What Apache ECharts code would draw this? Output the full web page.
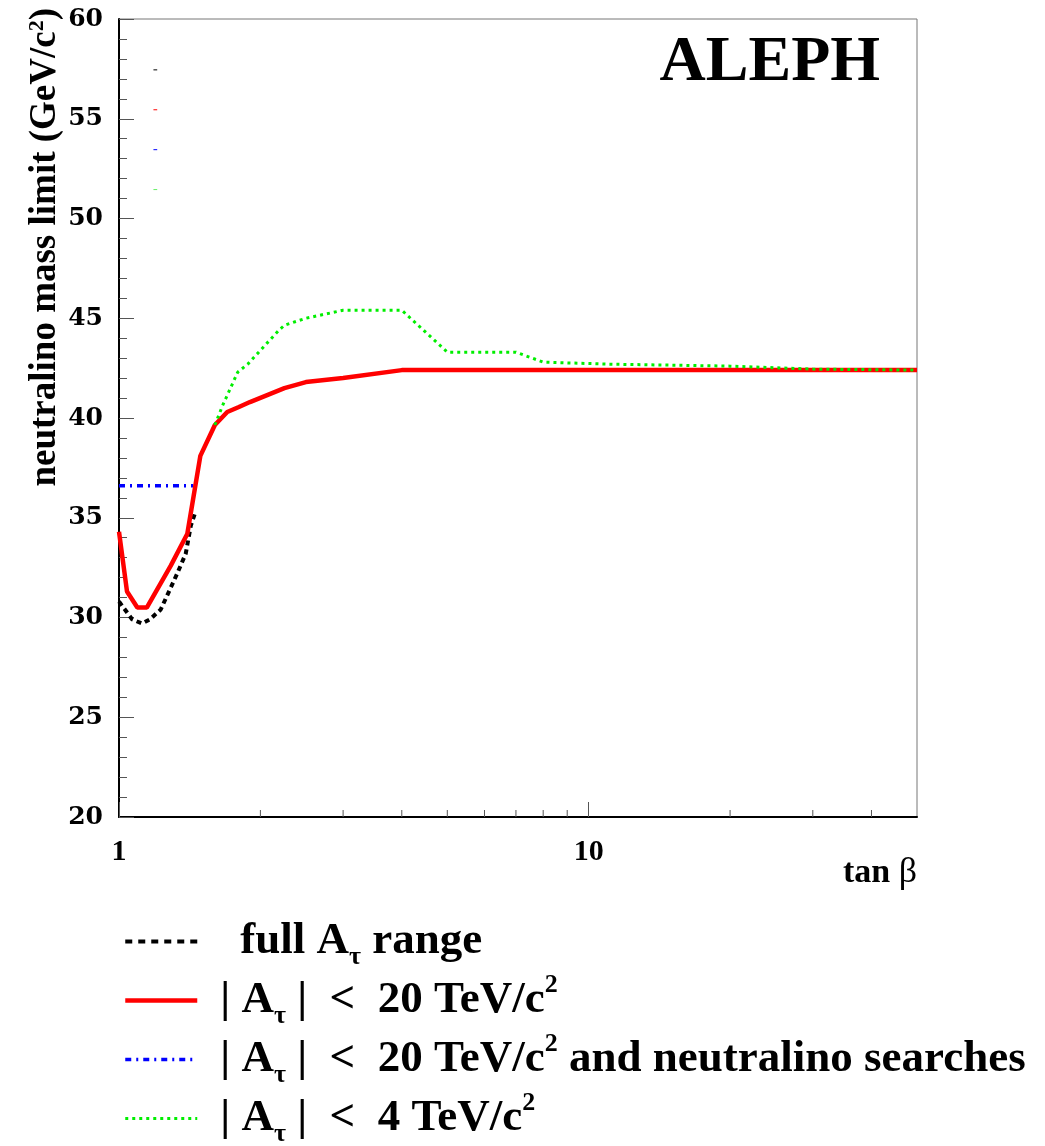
<!DOCTYPE html>
<html>
<head>
<meta charset="utf-8">
<script src="https://cdn.jsdelivr.net/npm/echarts@6/dist/echarts.min.js"></script>
<style>
html,body{margin:0;padding:0;background:#fff;}
#main{width:1045px;height:1146px;}
</style>
</head>
<body>
<div id="main"></div>
<script>
// ---- data (tan beta, mass limit in GeV/c^2) ----
const fullRange = [[1.0,30.8],[1.067,29.9],[1.12,29.7],[1.163,29.9],[1.227,30.4],[1.33,32.2],[1.387,33.2],[1.422,34.6],[1.45,35.2]];
const a20 = [[1.0,34.3],[1.04,31.3],[1.094,30.5],[1.146,30.5],[1.289,32.6],[1.398,34.2],[1.49,38.1],[1.6,39.65],[1.7,40.3],[1.8,40.55],[1.9,40.8],[2.25,41.5],[2.5,41.8],[3.0,42.0],[4.0,42.4],[50,42.4]];
const a20Neutralino = [[1.0,36.6],[1.44,36.6]];
const a4 = [[1.6,39.65],[1.66,40.6],[1.79,42.3],[1.88,42.7],[2.19,44.4],[2.25,44.65],[2.5,45.0],[3.0,45.4],[4.0,45.4],[5.0,43.3],[7.0,43.3],[8.0,42.8],[11,42.7],[20,42.6],[30,42.45],[50,42.4]];
// tiny stray marks near the top-left of the frame
const strayBlack = [[1.184,57.45],[1.206,57.45]];
const strayRed = [[1.184,55.45],[1.206,55.45]];
const strayBlue = [[1.184,53.45],[1.206,53.45]];
const strayGreen = [[1.184,51.45],[1.206,51.45]];
// axes
const xMin = 1, xMax = 50;
const yMin = 20, yMax = 60, yStep = 5;
const xMinorTicks = [2,3,4,5,6,7,8,9,20,30,40];

const serif = '"Liberation Serif", "Times New Roman", serif';
const chart = echarts.init(document.getElementById('main'), null, {renderer:'canvas'});

const legendNames = {
  full: '{gap|}full A{sub|τ} range',
  a20: '| A{sub|τ} |  <  20 TeV/c{sup|2}',
  a20n: '| A{sub|τ} |  <  20 TeV/c{sup|2} and neutralino searches',
  a4: '| A{sub|τ} |  <  4 TeV/c{sup|2}'
};

function stray(data, color){
  return {type:'line', data:data, symbol:'none', silent:true, z:1,
    lineStyle:{color:color, width:1}};
}

const styleFull = {color:'#000', width:4, type:[5,4]};
const styleA20 = {color:'#ff0000', width:4.5, type:'solid'};
const styleA20n = {color:'#0000ff', width:3.5, type:[6,5,2,5]};
const styleA4 = {color:'#00ee00', width:3, type:[3,4]};

chart.setOption({
  animation:false,
  backgroundColor:'#fff',
  grid:{left:119, top:19, right:128, bottom:329, show:true, borderColor:'#777', borderWidth:1, backgroundColor:'transparent'},
  xAxis:{
    type:'log', logBase:10, min:xMin, max:xMax,
    axisLine:{show:true, onZero:false, lineStyle:{color:'#000', width:2}},
    axisTick:{show:true, inside:true, length:15, lineStyle:{color:'#555', width:1}},
    axisLabel:{show:true, showMaxLabel:false, margin:20, fontFamily:serif, fontWeight:'bold', fontSize:30, color:'#000'},
    splitLine:{show:false}
  },
  yAxis:{
    type:'value', min:yMin, max:yMax, interval:yStep,
    axisLine:{show:true, lineStyle:{color:'#000', width:2}},
    axisTick:{show:true, inside:true, length:15, lineStyle:{color:'#555', width:1}},
    minorTick:{show:true, splitNumber:5, length:8, lineStyle:{color:'#555', width:1}},
    axisLabel:{margin:16, fontFamily:'"DejaVu Serif", serif', fontWeight:'bold', fontSize:25, color:'#000'},
    splitLine:{show:false}
  },
  legend:{
    orient:'vertical', left:118, top:908, height:260,
    itemWidth:72, itemHeight:20, itemGap:2,
    data:[
      {name:'full', lineStyle:{color:'#000', width:4, type:[7,6]}},
      {name:'a20', lineStyle:styleA20},
      {name:'a20n', lineStyle:styleA20n},
      {name:'a4', lineStyle:styleA4}
    ],
    itemStyle:{opacity:0},
    formatter:function(n){return legendNames[n];},
    textStyle:{
      fontFamily:serif, fontWeight:'bold', fontSize:45, color:'#000', lineHeight:57,
      padding:[0,0,0,18],
      rich:{
        gap:{width:20, fontSize:45, lineHeight:57},
        sub:{fontFamily:serif, fontWeight:'bold', fontSize:26, lineHeight:26, verticalAlign:'bottom', color:'#000'},
        sup:{fontFamily:serif, fontWeight:'bold', fontSize:26, lineHeight:26, verticalAlign:'top', color:'#000'}
      }
    }
  },
  graphic:[
    {type:'text', x:45, y:8, rotation:Math.PI/2,
      style:{text:'neutralino mass limit (GeV/c{sup|2})', fontFamily:serif, fontWeight:'bold', fontSize:37,
        fill:'#000', align:'right', verticalAlign:'middle',
        rich:{sup:{fontFamily:serif, fontWeight:'bold', fontSize:22, verticalAlign:'top', lineHeight:22}}}},
    {type:'text', x:880, y:63, style:{text:'ALEPH', fontFamily:serif, fontWeight:'bold', fontSize:64, fill:'#000', align:'right', verticalAlign:'middle'}},
    {type:'text', x:917, y:873, style:{text:'tan {b|β}', fontFamily:serif, fontWeight:'bold', fontSize:34, fill:'#000', align:'right', verticalAlign:'middle',
      rich:{b:{fontFamily:serif, fontWeight:'normal', fontSize:36}}}}
  ],
  series:[
    {type:'custom', name:'minorX', silent:true, z:5,
      data:xMinorTicks.map(function(v){return [v, yMin];}),
      renderItem:function(params, api){
        const p = api.coord([api.value(0), api.value(1)]);
        return {type:'line', shape:{x1:p[0], y1:p[1], x2:p[0], y2:p[1]-7}, style:{stroke:'#555', lineWidth:1}};
      }},
    stray(strayBlack,'#000'), stray(strayRed,'#ff0000'), stray(strayBlue,'#0000ff'), stray(strayGreen,'#66ee66'),
    {name:'full', type:'line', data:fullRange, symbol:'none', z:2, lineStyle:styleFull, itemStyle:{color:'#000'}},
    {name:'a20n', type:'line', data:a20Neutralino, symbol:'none', z:2, lineStyle:styleA20n, itemStyle:{color:'#0000ff'}},
    {name:'a20', type:'line', data:a20, symbol:'none', z:3, lineStyle:styleA20, itemStyle:{color:'#ff0000'}},
    {name:'a4', type:'line', data:a4, symbol:'none', z:4, lineStyle:styleA4, itemStyle:{color:'#00ee00'}}
  ]
});
</script>
</body>
</html>
